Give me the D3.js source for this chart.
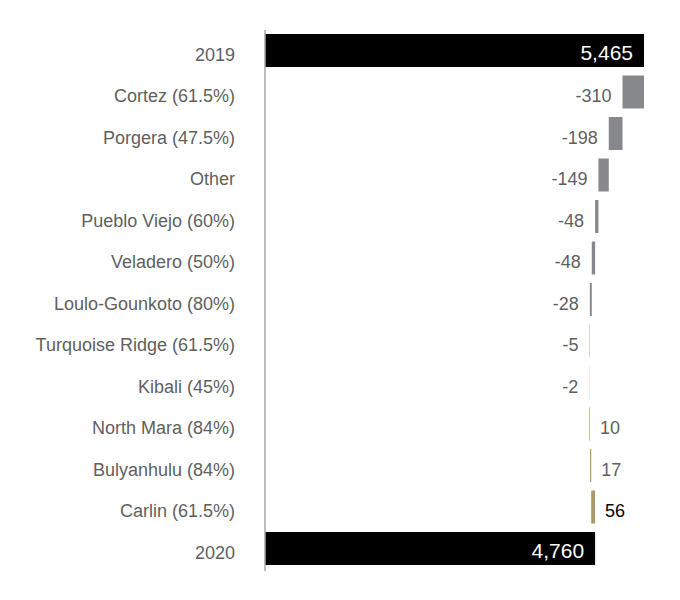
<!DOCTYPE html>
<html><head><meta charset="utf-8">
<script src="https://cdn.jsdelivr.net/npm/d3@7"></script>
<style>body{margin:0;background:#fff;}svg{display:block;font-family:"Liberation Sans",Arial,sans-serif;}</style>
</head><body><svg id="c" width="680" height="600"></svg>
<script>
const categories = ["2019","Cortez (61.5%)","Porgera (47.5%)","Other","Pueblo Viejo (60%)","Veladero (50%)","Loulo-Gounkoto (80%)","Turquoise Ridge (61.5%)","Kibali (45%)","North Mara (84%)","Bulyanhulu (84%)","Carlin (61.5%)","2020"];
const values = [5465,-310,-198,-149,-48,-48,-28,-5,-2,10,17,56,4760];
const kinds = ["total","delta","delta","delta","delta","delta","delta","delta","delta","delta","delta","delta","total"];

const svg = d3.select("#c");
const x = d3.scaleLinear().domain([0,5465]).range([265,644]);
const y = d3.scaleBand().domain(categories).range([34,565]).paddingInner(0.205).paddingOuter(0);

let cum = 0;
const rows = categories.map((c,i)=>{
  let a,b;
  if(kinds[i]==="total"){a=0;b=values[i];cum=values[i];}
  else {a=cum;b=cum+values[i];cum=b;}
  return {c,v:values[i],k:kinds[i],a,b};
});

svg.selectAll("rect.bar").data(rows).enter().append("rect")
  .attr("x",d=>x(Math.min(d.a,d.b)))
  .attr("y",d=>y(d.c))
  .attr("width",d=>Math.max(0,Math.abs(x(d.b)-x(d.a))))
  .attr("height",y.bandwidth())
  .attr("fill",d=>d.k==="total"?"#000":(d.v<0?"#87888b":"#a89968"));

svg.append("line").attr("x1",265).attr("x2",265).attr("y1",30).attr("y2",571)
  .attr("stroke","#a6a6a6").attr("stroke-width",1.5);

const ty = d=>y(d.c)+y.bandwidth()/2+4;
svg.selectAll("text.cat").data(rows).enter().append("text")
  .attr("x",235).attr("y",ty).attr("dy","0.35em")
  .attr("text-anchor","end").attr("font-size",18).attr("fill","#5f5f5f").text(d=>d.c);

const fmt = v => d3.format(",")(v).replace("\u2212","-");
svg.selectAll("text.val").data(rows).enter().append("text")
  .attr("x",d=>d.k==="total"?x(d.b)-11:(d.v<0?x(Math.min(d.a,d.b))-11:x(d.b)+10))
  .attr("y",d=>d.k==="total"?ty(d)-2:ty(d)).attr("dy","0.35em")
  .attr("text-anchor",d=>d.k==="total"?"end":(d.v<0?"end":"start"))
  .attr("font-size",d=>d.k==="total"?21:18)
  .attr("fill",d=>d.k==="total"?"#fff":(d.c.startsWith("Carlin")?"#000":"#5f5f5f"))
  .text(d=>fmt(d.v));
</script></body></html>
